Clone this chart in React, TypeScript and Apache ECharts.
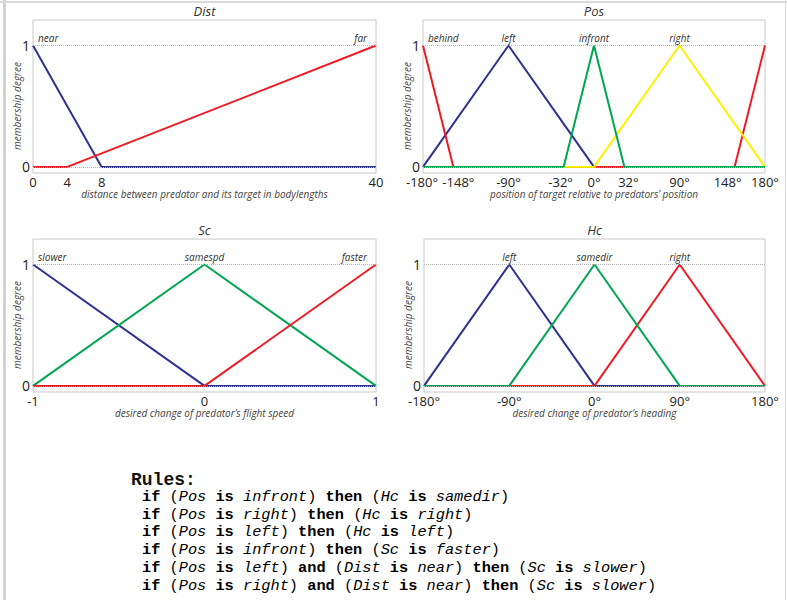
import React, { useEffect, useRef } from "react";
import * as echarts from "echarts";

const BLUE = "#2E3192";
const RED = "#ED1C24";
const GREEN = "#00A651";
const YELLOW = "#FFF200";

// Dist
const distTicks = [0, 4, 8, 40];
const distNear = [[0, 1], [8, 0], [40, 0]];
const distFar = [[0, 0], [4, 0], [40, 1]];

// Pos
const posTicks = [-180, -148, -90, -32, 0, 32, 90, 148, 180];
const posLeft = [[-180, 0], [-90, 1], [0, 0], [180, 0]];
const posBehind = [[-180, 1], [-148, 0], [148, 0], [180, 1]];
const posRight = [[-180, 0], [0, 0], [90, 1], [180, 0]];
const posInfront = [[-180, 0], [-32, 0], [0, 1], [32, 0], [180, 0]];

// Sc
const scTicks = [-1, 0, 1];
const scSlower = [[-1, 1], [0, 0], [1, 0]];
const scSamespd = [[-1, 0], [0, 1], [1, 0]];
const scFaster = [[-1, 0], [0, 0], [1, 1]];

// Hc
const hcTicks = [-180, -90, 0, 90, 180];
const hcLeft = [[-180, 0], [-90, 1], [0, 0], [180, 0]];
const hcRight = [[-180, 0], [0, 0], [90, 1], [180, 0]];
const hcSamedir = [[-180, 0], [-90, 0], [0, 1], [90, 0], [180, 0]];

const yTicks = [0, 1];

const rules = [
  { ifs: [["Pos", "infront"]], then: ["Hc", "samedir"] },
  { ifs: [["Pos", "right"]], then: ["Hc", "right"] },
  { ifs: [["Pos", "left"]], then: ["Hc", "left"] },
  { ifs: [["Pos", "infront"]], then: ["Sc", "faster"] },
  { ifs: [["Pos", "left"], ["Dist", "near"]], then: ["Sc", "slower"] },
  { ifs: [["Pos", "right"], ["Dist", "near"]], then: ["Sc", "slower"] },
];

// layout only: small horizontal nudges (px) of crowded tick labels, as in the original
const posLabelNudge: Record<string, number> = { "-180": -1, "-148": 5, "-32": -3, "32": 4, "148": -7 };

const SANS = "'Open Sans', 'DejaVu Sans', sans-serif";
const MONO = "'Liberation Mono', 'Courier New', monospace";

type SetDef = { name: string; data: number[][]; color: string; peak: number[]; align: string };
type Panel = {
  title: string;
  xName: string;
  min: number;
  max: number;
  ticks: number[];
  deg: boolean;
  nudge?: Record<string, number>;
  sets: SetDef[];
  grid: { left: number; top: number; width: number; height: number };
};

const panels: Panel[] = [
  {
    title: "Dist",
    xName: "distance between predator and its target in bodylengths",
    min: 0, max: 40, ticks: distTicks, deg: false,
    grid: { left: 33, top: 20, width: 343, height: 153 },
    sets: [
      { name: "near", data: distNear, color: BLUE, peak: [0, 1], align: "left" },
      { name: "far", data: distFar, color: RED, peak: [40, 1], align: "right" },
    ],
  },
  {
    title: "Pos",
    xName: "position of target relative to predators’ position",
    min: -180, max: 180, ticks: posTicks, deg: true, nudge: posLabelNudge,
    grid: { left: 423, top: 20, width: 342, height: 153 },
    sets: [
      { name: "left", data: posLeft, color: BLUE, peak: [-90, 1], align: "center" },
      { name: "behind", data: posBehind, color: RED, peak: [-180, 1], align: "left" },
      { name: "right", data: posRight, color: YELLOW, peak: [90, 1], align: "center" },
      { name: "infront", data: posInfront, color: GREEN, peak: [0, 1], align: "center" },
    ],
  },
  {
    title: "Sc",
    xName: "desired change of predator’s flight speed",
    min: -1, max: 1, ticks: scTicks, deg: false,
    grid: { left: 33, top: 239, width: 343, height: 153 },
    sets: [
      { name: "slower", data: scSlower, color: BLUE, peak: [-1, 1], align: "left" },
      { name: "samespd", data: scSamespd, color: GREEN, peak: [0, 1], align: "center" },
      { name: "faster", data: scFaster, color: RED, peak: [1, 1], align: "right" },
    ],
  },
  {
    title: "Hc",
    xName: "desired change of predator’s heading",
    min: -180, max: 180, ticks: hcTicks, deg: true,
    grid: { left: 424, top: 239, width: 341, height: 153 },
    sets: [
      { name: "left", data: hcLeft, color: BLUE, peak: [-90, 1], align: "center" },
      { name: "right", data: hcRight, color: RED, peak: [90, 1], align: "center" },
      { name: "samedir", data: hcSamedir, color: GREEN, peak: [0, 1], align: "center" },
    ],
  },
];

function ruleText(r: { ifs: string[][]; then: string[] }) {
  const clause = (c: string[]) => `{p|(}{v|${c[0]}}{s| }{k|is}{s| }{t|${c[1]}}{p|)}`;
  const parts = r.ifs.map(clause).join("{s| }{k|and}{s| }");
  return `{k|if}{s| }${parts}{s| }{k|then}{s| }${clause(r.then)}`;
}

export default function App() {
  const ref = useRef<HTMLDivElement>(null);
  useEffect(() => {
    document.body.style.margin = "0";
    if (!ref.current) return;
    const chart = echarts.init(ref.current, undefined, { renderer: "svg" });

    const grids: any[] = [];
    const xAxes: any[] = [];
    const yAxes: any[] = [];
    const series: any[] = [];
    const titles: any[] = [];
    const graphics: any[] = [];

    const LFS = 13;
    panels.forEach((p, i) => {
      grids.push({
        left: p.grid.left, top: p.grid.top, width: p.grid.width, height: p.grid.height,
        show: true, borderColor: "#c8c8c8", borderWidth: 1, backgroundColor: "transparent",
      });
      const nudge = p.nudge || {};
      const labelRich: Record<string, any> = {};
      Object.keys(nudge).forEach((k, j) => {
        const s = nudge[k];
        labelRich["n" + j] = {
          fontSize: LFS, color: "#222", fontFamily: SANS,
          padding: s >= 0 ? [0, 0, 0, 2 * s] : [0, -2 * s, 0, 0],
        };
      });
      const labelBase = {
        showMinLabel: true, showMaxLabel: true, hideOverlap: false,
        formatter: (v: number) => {
          const txt = p.deg ? `${v}°` : `${v}`;
          const j = Object.keys(nudge).indexOf(String(v));
          return j >= 0 ? `{n${j}|${txt}}` : txt;
        },
        rich: labelRich,
        fontSize: LFS, color: "#222", margin: 2, fontFamily: SANS,
      };
      // two label-bearing axes sharing one scale, so that close ticks both keep their labels
      const evenTicks = p.ticks.filter((_, k) => k % 2 === 0);
      const oddTicks = p.ticks.filter((_, k) => k % 2 === 1);
      xAxes.push({
        type: "value", gridIndex: i, min: p.min, max: p.max, position: "bottom", offset: 0,
        axisLine: { show: false }, axisTick: { show: false }, splitLine: { show: false },
        axisLabel: { ...labelBase, customValues: evenTicks },
        name: p.xName, nameLocation: "middle", nameGap: 15,
        nameTextStyle: { fontStyle: "italic", fontSize: 10, color: "#444", fontFamily: SANS },
      });
      xAxes.push({
        type: "value", gridIndex: i, min: p.min, max: p.max, position: "bottom", offset: 0,
        axisLine: { show: false }, axisTick: { show: false }, splitLine: { show: false },
        axisLabel: { ...labelBase, customValues: oddTicks },
      });
      const xi = 2 * i;
      yAxes.push({
        type: "value", gridIndex: i, min: -0.05, max: 1.21,
        axisLine: { show: false }, axisTick: { show: false }, splitLine: { show: false },
        axisLabel: { customValues: yTicks, fontSize: 14, color: "#222", margin: 3, fontFamily: SANS },
      });
      // reference lines at 0 and 1
      series.push({
        type: "line", xAxisIndex: xi, yAxisIndex: i, data: [], silent: true,
        markLine: {
          silent: true, symbol: "none", label: { show: false },
          lineStyle: { type: "dotted", color: "#b5b5b5", width: 1 },
          data: yTicks.map((t) => ({ yAxis: t })),
        },
      });
      p.sets.forEach((s) => {
        const offset = s.align === "left" ? [5, 0] : s.align === "right" ? [-9, 0] : [0, 0];
        series.push({
          type: "line", name: s.name, xAxisIndex: xi, yAxisIndex: i,
          data: s.data, showSymbol: false, symbol: "none",
          lineStyle: { color: s.color, width: 2 }, itemStyle: { color: s.color },
          markPoint: {
            symbol: "circle", symbolSize: 0, silent: true,
            data: [{ coord: s.peak, name: s.name }],
            label: {
              show: true, formatter: "{b}", position: "top", distance: 3,
              align: s.align, offset, color: "#333", fontStyle: "italic",
              fontSize: 10, fontFamily: SANS,
            },
          },
        });
      });
      titles.push({
        text: p.title, left: p.grid.left + p.grid.width / 2, top: p.grid.top - 16,
        textAlign: "center", padding: 0,
        textStyle: { fontSize: 13, fontStyle: "italic", fontWeight: "normal", color: "#333", fontFamily: SANS },
      });
      graphics.push({
        type: "text", x: p.grid.left - 16, y: p.grid.top + 86, rotation: Math.PI / 2,
        style: {
          text: "membership degree", align: "center", verticalAlign: "middle",
          fontSize: 10, fontStyle: "italic", fill: "#444", fontFamily: SANS,
        },
      });
    });

    // outer frame
    graphics.push({ type: "rect", shape: { x: 3, y: 0, width: 3, height: 600 }, style: { fill: "#d2d2d2" } });
    graphics.push({ type: "rect", shape: { x: 0, y: 1, width: 787, height: 2 }, style: { fill: "#dadada" } });
    graphics.push({ type: "rect", shape: { x: 785, y: 0, width: 1, height: 600 }, style: { fill: "#dcdcdc" } });

    graphics.push({
      type: "text", x: 131, y: 480,
      style: { text: "Rules:", fontFamily: MONO, fontSize: 18, fontWeight: "bold", fill: "#111", verticalAlign: "middle" },
    });
    const FS = 15.3;
    const rich = {
      k: { fontFamily: MONO, fontSize: FS, fontWeight: "bold", color: "#000" },
      s: { fontFamily: MONO, fontSize: FS, color: "#000" },
      p: { fontFamily: MONO, fontSize: FS, color: "#555" },
      v: { fontFamily: MONO, fontSize: FS, fontStyle: "italic", color: "#555" },
      t: { fontFamily: MONO, fontSize: FS, fontStyle: "italic", color: "#777" },
    };
    rules.forEach((r, i) => {
      graphics.push({
        type: "text", x: 142, y: 497 + i * 17.7,
        style: {
          text: ruleText(r), rich, fontFamily: MONO, fontSize: FS, fill: "#000",
          verticalAlign: "middle",
        },
      });
    });

    chart.setOption({
      animation: false,
      backgroundColor: "#fff",
      title: titles,
      grid: grids,
      xAxis: xAxes,
      yAxis: yAxes,
      series,
      graphic: graphics,
    });
    return () => chart.dispose();
  }, []);
  return <div ref={ref} style={{ width: 787, height: 600 }} />;
}
